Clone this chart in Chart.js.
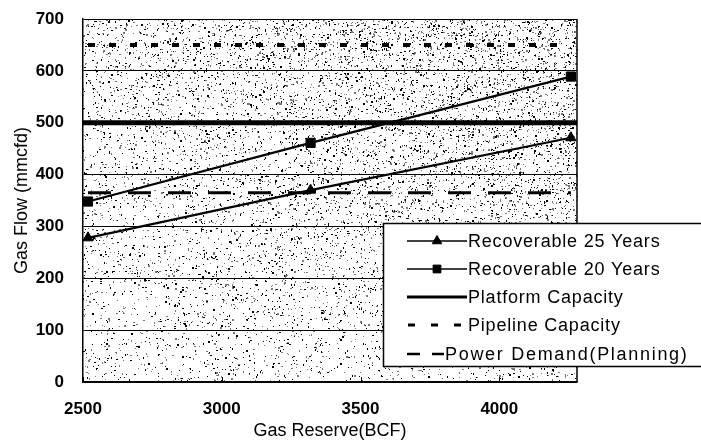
<!DOCTYPE html>
<html>
<head>
<meta charset="utf-8">
<script src="https://cdn.jsdelivr.net/npm/chart.js@4.4.1/dist/chart.umd.min.js"></script>
<style>
  html, body { margin: 0; padding: 0; background: #fff; }
</style>
</head>
<body>
<canvas id="chart" width="701" height="448"></canvas>
<script>
// values
const reserve = [2518, 3320, 4258];          // Gas Reserve (BCF)
const recoverable25 = [278, 370, 471];       // mmcfd
const recoverable20 = [348, 461, 589];
const platformCapacity = 500;
const pipelineCapacity = 650;
const powerDemand = 365;
const xRange = [2500, 4280];
const xTicks = [2500, 3000, 3500, 4000];
const yTicks = [0, 100, 200, 300, 400, 500, 600, 700];

const FONT = "'Liberation Sans', Arial, sans-serif";

function pts(xs, ys) {
  return xs.map((x, i) => ({ x: x, y: ys[i] }));
}

// little seeded generator, only for the stippled plot background
function lcg(seed) {
  let s = seed >>> 0;
  return () => (s = (Math.imul(s, 1664525) + 1013904223) >>> 0) / 4294967296;
}

const stipple = {
  id: 'stipple',
  beforeDraw(chart) {
    const ctx = chart.ctx, a = chart.chartArea;
    ctx.save();
    ctx.fillStyle = '#fff';
    ctx.fillRect(0, 0, chart.width, chart.height);
    const rnd = lcg(11);
    const w = a.right - a.left, h = a.bottom - a.top;
    const n = Math.round(w * h * 0.1);
    for (let i = 0; i < n; i++) {
      const x = a.left + rnd() * w, y = a.top + rnd() * h;
      const yn = (y - a.top) / h, xn = (x - a.left) / w;
      const keep = 0.2 + 0.8 * (1 - yn * 0.75) * (0.45 + 0.55 * xn);
      if (rnd() > keep) continue;
      ctx.fillStyle = rnd() < 0.5 ? '#000' : '#777';
      ctx.fillRect(Math.floor(x), Math.floor(y), rnd() < 0.25 ? 2 : 1, rnd() < 0.25 ? 2 : 1);
    }
    ctx.restore();
  }
};

// right border, and the small tick marks pointing up from the x axis
const frame = {
  id: 'frame',
  afterDatasetsDraw(chart) {
    const ctx = chart.ctx, a = chart.chartArea, xs = chart.scales.x;
    ctx.save();
    ctx.strokeStyle = '#000';
    ctx.lineWidth = 1.5;
    ctx.beginPath();
    ctx.moveTo(a.right, a.top);
    ctx.lineTo(a.right, a.bottom);
    ctx.stroke();
    ctx.lineWidth = 1;
    xTicks.forEach(v => {
      const px = Math.round(xs.getPixelForValue(v)) + 0.5;
      ctx.beginPath();
      ctx.moveTo(px, a.bottom);
      ctx.lineTo(px, a.bottom - 5);
      ctx.stroke();
    });
    ctx.restore();
  }
};

// Excel style legend box sitting over the lower right of the plot,
// running off the right edge of the picture
const boxLegend = {
  id: 'boxLegend',
  afterDraw(chart) {
    const ctx = chart.ctx;
    const rows = [241, 269, 297, 325, 354];
    const samples = [
      { x0: 407, x1: 467, w: 1.5, dash: [], marker: 'triangle', tx: 468, ls: 0.8 },
      { x0: 407, x1: 467, w: 1.5, dash: [], marker: 'rect', tx: 468, ls: 0.8 },
      { x0: 407, x1: 467, w: 3, dash: [], marker: null, tx: 468, ls: 0.8 },
      { x0: 408, x1: 463, w: 3, dash: [7, 16], marker: null, tx: 468, ls: 0.8 },
      { x0: 407, x1: 444, w: 2.5, dash: [13, 12], marker: null, tx: 445, ls: 1.7 }
    ];
    ctx.save();
    ctx.fillStyle = '#fff';
    ctx.fillRect(383, 223, 318, 144);
    ctx.strokeStyle = '#000';
    ctx.lineWidth = 1.5;
    ctx.beginPath();
    ctx.moveTo(701, 223.5);
    ctx.lineTo(383.5, 223.5);
    ctx.lineTo(383.5, 366.5);
    ctx.lineTo(701, 366.5);
    ctx.stroke();
    chart.data.datasets.forEach((ds, i) => {
      const s = samples[i], y = rows[i];
      ctx.strokeStyle = '#000';
      ctx.lineWidth = s.w;
      ctx.setLineDash(s.dash);
      ctx.beginPath();
      ctx.moveTo(s.x0, y);
      ctx.lineTo(s.x1, y);
      ctx.stroke();
      ctx.setLineDash([]);
      if (s.marker) {
        ctx.fillStyle = '#000';
        ctx.lineWidth = 1;
        Chart.helpers.drawPoint(ctx, { pointStyle: s.marker, radius: 5.5, borderWidth: 1 }, 437, y);
      }
      ctx.fillStyle = '#000';
      ctx.font = '18px ' + FONT;
      ctx.letterSpacing = s.ls + 'px';
      ctx.textBaseline = 'middle';
      ctx.textAlign = 'left';
      ctx.fillText(ds.label, s.tx, y + 1);
    });
    ctx.restore();
  }
};

new Chart(document.getElementById('chart'), {
  type: 'line',
  data: {
    datasets: [
      {
        label: 'Recoverable 25 Years',
        data: pts(reserve, recoverable25),
        borderColor: '#000', backgroundColor: '#000', borderWidth: 2.2,
        pointStyle: 'triangle', pointRadius: 6, pointBorderWidth: 1,
        clip: false
      },
      {
        label: 'Recoverable 20 Years',
        data: pts(reserve, recoverable20),
        borderColor: '#000', backgroundColor: '#000', borderWidth: 2.2,
        pointStyle: 'rect', pointRadius: 6.5, pointBorderWidth: 1,
        clip: false
      },
      {
        label: 'Platform Capacity',
        data: pts(xRange, [platformCapacity, platformCapacity]),
        borderColor: '#000', borderWidth: 5, pointRadius: 0
      },
      {
        label: 'Pipeline Capacity',
        data: pts([reserve[0], reserve[reserve.length - 1]], [pipelineCapacity, pipelineCapacity]),
        borderColor: '#000', borderWidth: 4, borderDash: [7, 14], pointRadius: 0
      },
      {
        label: 'Power Demand(Planning)',
        data: pts([reserve[0], reserve[reserve.length - 1]], [powerDemand, powerDemand]),
        borderColor: '#000', borderWidth: 3, borderDash: [23, 17], pointRadius: 0
      }
    ]
  },
  options: {
    responsive: false,
    animation: false,
    devicePixelRatio: 1,
    layout: { padding: { top: 19, right: 124, left: 0, bottom: 0 } },
    plugins: { legend: { display: false }, tooltip: { enabled: false } },
    scales: {
      x: {
        type: 'linear',
        min: xRange[0], max: xRange[1],
        afterBuildTicks: s => { s.ticks = xTicks.map(v => ({ value: v })); },
        afterFit: s => { s.height = 66; s.paddingLeft = 0; s.paddingRight = 0; },
        grid: { display: false, drawTicks: false },
        border: { display: true, color: '#000', width: 1.5 },
        ticks: {
          color: '#000', font: { family: FONT, size: 17, weight: 'bold' }, padding: 17, maxRotation: 0,
          callback: v => String(v)
        },
        title: {
          display: true, text: 'Gas Reserve(BCF)', color: '#000',
          font: { family: FONT, size: 18 }, padding: { top: 0, bottom: 6 }
        }
      },
      y: {
        min: 0, max: 700,
        afterBuildTicks: s => { s.ticks = yTicks.map(v => ({ value: v })); },
        afterFit: s => { s.width = 83; s.paddingTop = 0; s.paddingBottom = 0; },
        grid: { color: '#000', lineWidth: 1, drawTicks: false },
        border: { display: true, color: '#000', width: 1.5 },
        ticks: {
          color: '#000', font: { family: FONT, size: 17, weight: 'bold' }, padding: 19,
          callback: v => String(v)
        },
        title: {
          display: true, text: 'Gas Flow (mmcfd)', color: '#000',
          font: { family: FONT, size: 18 }, padding: { top: 11, bottom: 0 }
        }
      }
    }
  },
  plugins: [stipple, frame, boxLegend]
});
</script>
</body>
</html>
